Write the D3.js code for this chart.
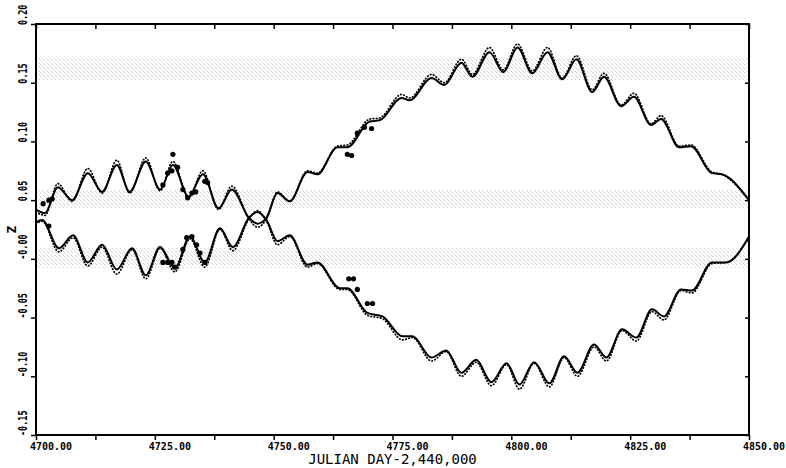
<!DOCTYPE html>
<html>
<head>
<meta charset="utf-8">
<script src="https://cdn.jsdelivr.net/npm/d3@7"></script>
<style>
  body { margin: 0; background: #fff; }
  text { fill: #000; }
</style>
</head>
<body>
<svg id="chart" width="786" height="468"></svg>
<script>
// upper branch at its turning points
var upperDays = [4700.0, 4701.9, 4704.6, 4707.6, 4710.9, 4713.9, 4717.0, 4719.7, 4723.1, 4726.1,
  4728.8, 4732.1, 4735.1, 4738.4, 4741.2, 4744.8, 4746.6, 4748.5, 4750.8, 4753.4,
  4757.1, 4759.2, 4763.4, 4765.5, 4770.2, 4772.3, 4776.9, 4778.6, 4783.2, 4785.9,
  4789.5, 4791.8, 4795.4, 4798.3, 4801.3, 4804.4, 4807.6, 4810.7, 4813.7, 4817.0,
  4819.5, 4823.1, 4825.8, 4829.4, 4831.5, 4835.3, 4837.8, 4842.2, 4844.3, 4850.0];
var upperZ = [0.042, 0.039, 0.061, 0.050, 0.073, 0.057, 0.080, 0.057, 0.083, 0.059,
  0.080, 0.053, 0.072, 0.043, 0.059, 0.035, 0.030, 0.035, 0.056, 0.049,
  0.074, 0.072, 0.095, 0.095, 0.117, 0.118, 0.137, 0.135, 0.154, 0.148,
  0.167, 0.155, 0.176, 0.159, 0.180, 0.158, 0.176, 0.153, 0.170, 0.142,
  0.155, 0.130, 0.138, 0.114, 0.119, 0.095, 0.096, 0.073, 0.072, 0.050];
var upperDotZ = [0.040, 0.037, 0.064, 0.049, 0.077, 0.056, 0.084, 0.056, 0.086, 0.058,
  0.083, 0.052, 0.075, 0.042, 0.062, 0.034, 0.027, 0.034, 0.057, 0.049,
  0.075, 0.073, 0.096, 0.097, 0.119, 0.120, 0.140, 0.137, 0.157, 0.150,
  0.170, 0.157, 0.180, 0.161, 0.183, 0.160, 0.180, 0.154, 0.173, 0.144,
  0.158, 0.131, 0.141, 0.115, 0.122, 0.096, 0.097, 0.074, 0.072, 0.050];

// lower branch
var lowerDays = [4700.0, 4701.3, 4704.8, 4707.8, 4710.9, 4713.9, 4717.0, 4720.2, 4723.1, 4726.1,
  4729.2, 4732.4, 4735.5, 4738.7, 4741.4, 4744.8, 4746.6, 4748.5, 4750.8, 4753.4,
  4757.1, 4759.2, 4763.9, 4765.5, 4769.7, 4772.9, 4777.1, 4779.2, 4783.2, 4786.3,
  4789.5, 4792.6, 4795.8, 4799.0, 4801.7, 4804.8, 4808.0, 4811.1, 4813.9, 4817.4,
  4820.0, 4823.3, 4826.3, 4829.6, 4832.1, 4835.7, 4838.0, 4842.2, 4845.2, 4850.0];
var lowerZ = [0.031, 0.033, 0.009, 0.020, -0.003, 0.012, -0.009, 0.009, -0.014, 0.010,
  -0.008, 0.019, -0.003, 0.026, 0.010, 0.035, 0.040, 0.033, 0.015, 0.020,
  -0.005, -0.003, -0.025, -0.025, -0.046, -0.049, -0.066, -0.066, -0.084, -0.078,
  -0.097, -0.086, -0.105, -0.089, -0.107, -0.088, -0.106, -0.083, -0.097, -0.073,
  -0.084, -0.060, -0.067, -0.043, -0.049, -0.026, -0.027, -0.003, -0.003, 0.019];
var lowerDotZ = [0.030, 0.032, 0.006, 0.018, -0.006, 0.010, -0.013, 0.008, -0.017, 0.009,
  -0.011, 0.017, -0.007, 0.025, 0.007, 0.034, 0.041, 0.032, 0.012, 0.019,
  -0.007, -0.004, -0.026, -0.026, -0.048, -0.051, -0.069, -0.067, -0.087, -0.079,
  -0.100, -0.088, -0.108, -0.090, -0.111, -0.089, -0.109, -0.084, -0.100, -0.075,
  -0.087, -0.061, -0.070, -0.045, -0.052, -0.027, -0.029, -0.004, -0.003, 0.018];

// observed points
var obsDays = [4701.5, 4702.7, 4703.4, 4726.7, 4727.7, 4728.6, 4728.8, 4729.8, 4730.9, 4731.9,
  4732.8, 4733.6, 4735.5, 4736.1,
  4702.7, 4726.7, 4727.7, 4728.6, 4729.2, 4730.9, 4731.7, 4732.8, 4733.8, 4734.5, 4735.5,
  4765.5, 4766.4, 4767.6, 4769.1, 4770.6,
  4765.8, 4766.8, 4767.6, 4769.7, 4770.8];
var obsZ = [0.047, 0.050, 0.051, 0.063, 0.073, 0.075, 0.089, 0.078, 0.059, 0.052,
  0.056, 0.057, 0.066, 0.065,
  0.028, -0.003, -0.003, -0.003, -0.007, 0.008, 0.018, 0.019, 0.012, 0.005, -0.003,
  0.089, 0.088, 0.107, 0.112, 0.111,
  -0.017, -0.017, -0.026, -0.038, -0.038];

// shaded bands
var bandLow = [0.152, 0.043, -0.008];
var bandHigh = [0.172, 0.059, 0.009];

var xMajor = [4700, 4725, 4750, 4775, 4800, 4825, 4850];
var xMajorLabels = ["4700.00", "4725.00", "4750.00", "4775.00", "4800.00", "4825.00", "4850.00"];
var xMinor = [4700, 4712.5, 4725, 4737.5, 4750, 4762.5, 4775, 4787.5, 4800, 4812.5, 4825, 4837.5, 4850];
var yTicks = [0.20, 0.15, 0.10, 0.05, 0.00, -0.05, -0.10, -0.15];
var yTickLabels = ["0.20", "0.15", "0.10", "0.05", "-0.00", "-0.05", "-0.10", "-0.15"];

function drawChart()
{
  var left = 36, right = 749, plotTop = 24, bottom = 435;
  var svg = d3.select("#chart");

  var x = d3.scaleLinear().domain([4700, 4850]).range([left, right]);
  var y = d3.scaleLinear().domain([-0.15, 0.20]).range([bottom, plotTop]);

  // stipple pattern for the bands
  var pat = svg.append("defs").append("pattern")
      .attr("id", "stipple")
      .attr("patternUnits", "userSpaceOnUse")
      .attr("width", 4)
      .attr("height", 4);
  pat.append("path")
      .attr("d", "M0,0 L4,4 M-1,3 L1,5 M3,-1 L5,1")
      .attr("stroke", "#9a9a9a")
      .attr("stroke-width", 0.65)
      .attr("stroke-dasharray", "1.1,1.1");

  svg.selectAll(".band")
      .data(bandLow)
      .enter()
      .append("rect")
      .attr("class", "band")
      .attr("x", left)
      .attr("width", right - left)
      .attr("y", function(d, i) { return y(bandHigh[i]); })
      .attr("height", function(d, i) { return y(d) - y(bandHigh[i]); })
      .attr("fill", "url(#stipple)");

  function series(days, zs) {
    return days.map(function(d, i) { return [d, zs[i]]; });
  }

  var line = d3.line()
      .x(function(d) { return x(d[0]); })
      .y(function(d) { return y(d[1]); })
      .curve(d3.curveMonotoneX);

  var dotted = [series(upperDays, upperDotZ), series(lowerDays, lowerDotZ)];
  var solid = [series(upperDays, upperZ), series(lowerDays, lowerZ)];

  svg.selectAll(".dotLine")
      .data(dotted)
      .enter()
      .append("path")
      .attr("class", "dotLine")
      .attr("d", line)
      .attr("fill", "none")
      .attr("stroke", "#000")
      .attr("stroke-width", 1.7)
      .attr("stroke-linecap", "round")
      .attr("stroke-dasharray", "0.6,2.6");

  svg.selectAll(".solidLine")
      .data(solid)
      .enter()
      .append("path")
      .attr("class", "solidLine")
      .attr("d", line)
      .attr("fill", "none")
      .attr("stroke", "#000")
      .attr("stroke-width", 2);

  svg.selectAll(".obs")
      .data(obsDays)
      .enter()
      .append("circle")
      .attr("class", "obs")
      .attr("cx", function(d) { return x(d); })
      .attr("cy", function(d, i) { return y(obsZ[i]); })
      .attr("r", 2.6)
      .attr("fill", "#000");

  // ticks
  function noDomain(g) { g.select(".domain").remove(); g.selectAll("line").attr("stroke-width", 1.5); }

  svg.append("g")
      .attr("transform", "translate(0," + bottom + ")")
      .call(d3.axisBottom(x).tickValues(xMinor).tickSize(5).tickFormat(""))
      .call(noDomain);
  svg.append("g")
      .attr("transform", "translate(0," + plotTop + ")")
      .call(d3.axisTop(x).tickValues(xMinor).tickSize(-5).tickFormat(""))
      .call(noDomain);
  svg.append("g")
      .attr("transform", "translate(" + left + ",0)")
      .call(d3.axisLeft(y).tickValues(yTicks).tickSize(5).tickFormat(""))
      .call(noDomain);
  svg.append("g")
      .attr("transform", "translate(" + right + ",0)")
      .call(d3.axisRight(y).tickValues(yTicks).tickSize(-4).tickFormat(""))
      .call(noDomain);

  svg.append("rect")
      .attr("x", left)
      .attr("y", plotTop)
      .attr("width", right - left)
      .attr("height", bottom - plotTop)
      .attr("fill", "none")
      .attr("stroke", "#000")
      .attr("stroke-width", 2);

  // tick labels
  svg.selectAll(".xLabel")
      .data(xMajor)
      .enter()
      .append("text")
      .attr("class", "xLabel")
      .attr("x", function(d) { return x(d) - 6; })
      .attr("y", 450)
      .style("font-family", "DejaVu Sans Mono")
      .style("font-weight", "bold")
      .style("font-size", "10px")
      .text(function(d, i) { return xMajorLabels[i]; });

  svg.selectAll(".yLabel")
      .data(yTicks)
      .enter()
      .append("text")
      .attr("class", "yLabel")
      .attr("transform", function(d) { return "translate(27," + (y(d) + 1) + ") rotate(-90) scale(1,1.4)"; })
      .style("font-family", "DejaVu Sans Mono")
      .style("font-weight", "bold")
      .style("font-size", "8.5px")
      .text(function(d, i) { return yTickLabels[i]; });

  svg.append("text")
      .attr("x", (left + right) / 2)
      .attr("y", 464)
      .attr("text-anchor", "middle")
      .style("font-family", "DejaVu Sans Mono")
      .style("font-size", "14px")
      .text("JULIAN DAY-2,440,000");

  svg.append("text")
      .attr("transform", "translate(16," + ((plotTop + bottom) / 2) + ") rotate(-90)")
      .attr("text-anchor", "middle")
      .style("font-family", "DejaVu Sans Mono")
      .style("font-weight", "bold")
      .style("font-size", "13px")
      .text("Z");
}

drawChart();
</script>
</body>
</html>
